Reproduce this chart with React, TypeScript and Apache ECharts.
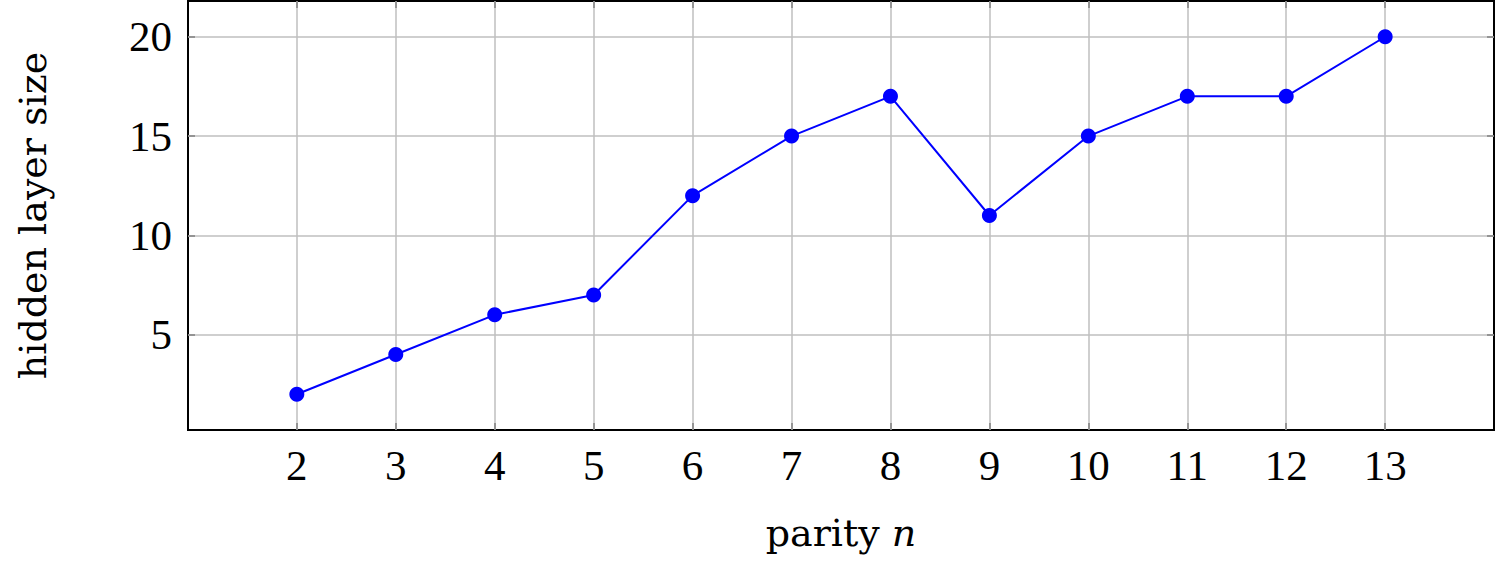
import React, { useEffect, useRef } from "react";
import * as echarts from "echarts";

const parityN = [2, 3, 4, 5, 6, 7, 8, 9, 10, 11, 12, 13];
const hiddenSize = [2, 4, 6, 7, 12, 15, 17, 11, 15, 17, 17, 20];
const xTicks = [2, 3, 4, 5, 6, 7, 8, 9, 10, 11, 12, 13];
const yTicks = [5, 10, 15, 20];

const FONT = "'Liberation Serif', 'DejaVu Serif', serif";
const NAME_FONT = "'DejaVu Serif', 'Liberation Serif', serif";

export default function App() {
  const ref = useRef<HTMLDivElement>(null);
  useEffect(() => {
    if (!ref.current) return;
    const chart = echarts.init(ref.current, null, { renderer: "svg" });
    const tickStyle = { show: true, inside: true, length: 7, lineStyle: { color: "#808080", width: 1.5 } };
    const gridLine = { show: true, lineStyle: { color: "#bfbfbf", width: 1.5 } };
    chart.setOption({
      animation: false,
      backgroundColor: "#ffffff",
      grid: {
        left: 188,
        right: 1,
        top: 1,
        bottom: 134,
        show: true,
        borderColor: "#000000",
        borderWidth: 2,
        backgroundColor: "transparent",
      },
      xAxis: [
        {
          type: "value",
          min: 0.9,
          max: 14.1,
          axisLine: { show: false },
          axisTick: { ...tickStyle, customValues: xTicks },
          splitLine: gridLine,
          axisLabel: {
            customValues: xTicks,
            fontFamily: FONT,
            fontSize: 43,
            color: "#000",
            margin: 14,
          },
          name: "{r|parity }{i|n}",
          nameLocation: "middle",
          nameGap: 84,
          nameTextStyle: {
            rich: {
              r: { fontFamily: NAME_FONT, fontSize: 38, color: "#000" },
              i: { fontFamily: NAME_FONT, fontSize: 38, fontStyle: "italic", color: "#000" },
            },
          },
        },
        {
          type: "value",
          position: "top",
          min: 0.9,
          max: 14.1,
          axisLine: { show: false },
          axisTick: { ...tickStyle, customValues: xTicks },
          splitLine: { show: false },
          axisLabel: { show: false, customValues: xTicks },
        },
      ],
      yAxis: [
        {
          type: "value",
          min: 0.2,
          max: 21.8,
          axisLine: { show: false },
          axisTick: { ...tickStyle, customValues: yTicks },
          splitLine: gridLine,
          axisLabel: {
            customValues: yTicks,
            fontFamily: FONT,
            fontSize: 43,
            color: "#000",
            margin: 16,
          },
          name: "hidden layer size",
          nameLocation: "middle",
          nameGap: 136,
          nameTextStyle: { fontFamily: NAME_FONT, fontSize: 38, color: "#000" },
        },
        {
          type: "value",
          position: "right",
          min: 0.2,
          max: 21.8,
          axisLine: { show: false },
          axisTick: { ...tickStyle, customValues: yTicks },
          splitLine: { show: false },
          axisLabel: { show: false, customValues: yTicks },
        },
      ],
      series: [
        {
          type: "line",
          data: parityN.map((x, i) => [x, hiddenSize[i]]),
          lineStyle: { color: "#0000ff", width: 2 },
          itemStyle: { color: "#0000ff" },
          symbol: "circle",
          symbolSize: 15,
          showSymbol: true,
        },
      ],
    });
    return () => chart.dispose();
  }, []);
  return (
    <div
      ref={ref}
      style={{ position: "absolute", left: 0, top: 0, width: 1495, height: 564 }}
    />
  );
}
